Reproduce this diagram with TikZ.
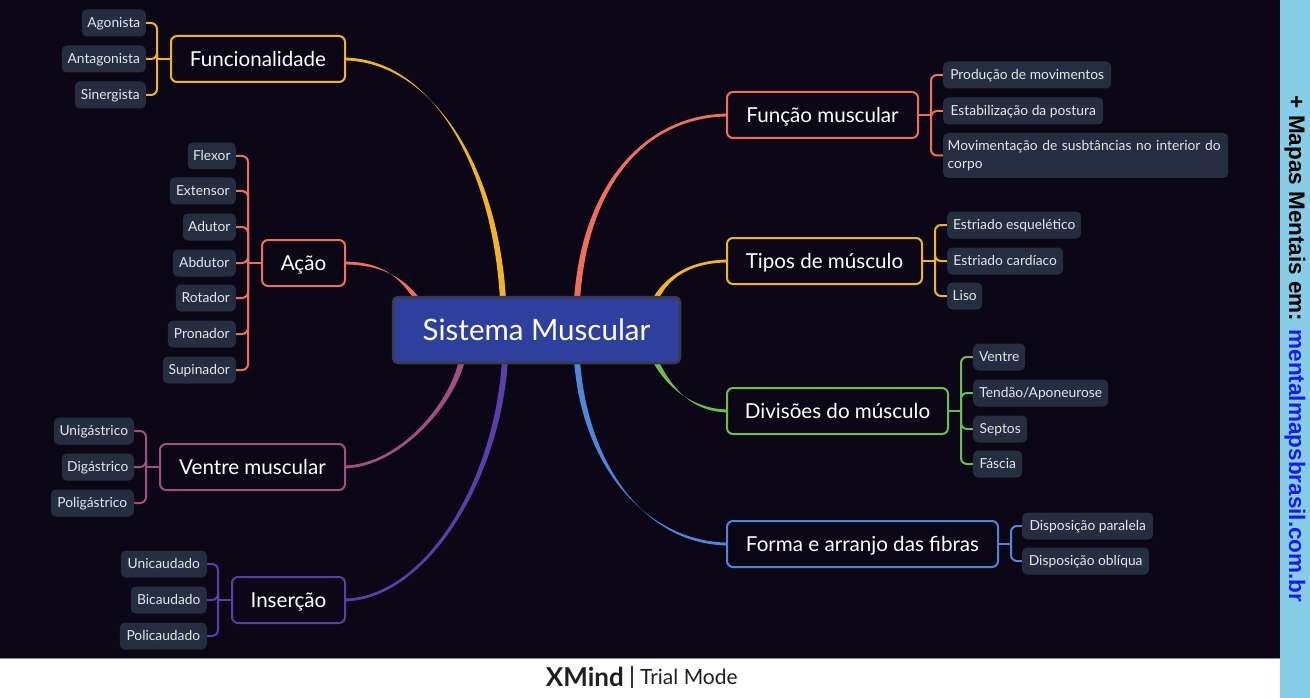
\documentclass[tikz,border=0pt]{standalone}
\usepackage{fontspec}
\setmainfont{Lato}
\newfontfamily\stripfont{Liberation Sans}
\usetikzlibrary{calc}
\pgfdeclarelayer{back}
\pgfdeclarelayer{links}
\pgfsetlayers{back,links,main}
\definecolor{bgc}{HTML}{0B0716}
\definecolor{leafc}{HTML}{252E40}
\definecolor{leaft}{HTML}{E2E6EC}
\definecolor{rootc}{HTML}{2F3F9E}
\definecolor{rootb}{HTML}{3A3A48}
\definecolor{cyel}{HTML}{F0B429}
\definecolor{csal}{HTML}{EE6F5C}
\definecolor{cmau}{HTML}{A04F84}
\definecolor{cpur}{HTML}{5B3FA8}
\definecolor{cgrn}{HTML}{6CBF4F}
\definecolor{cblu}{HTML}{4F86D6}
\definecolor{stripc}{HTML}{87CDE8}
\definecolor{stripblue}{HTML}{1A1AF0}
\newcommand{\mmbranch}[5]{%
 \fill[#5] ($(#1)+(0,-1.4)$) .. controls ($(#1)+#3+(0,-1.6)$) and ($(#2)+#4+(-2.9,0)$) .. ($(#2)+(-3,0)$) -- ($(#2)+(3,0)$) .. controls ($(#2)+#4+(2.9,0)$) and ($(#1)+#3+(0,1.6)$) .. ($(#1)+(0,1.4)$) -- cycle;}
\begin{document}
\begin{tikzpicture}[x=1pt,y=-1pt,
 root/.style={fill=rootc, draw=rootb, line width=2.5pt, rounded corners=5pt, minimum width=287pt, minimum height=66pt, text=white, font=\fontsize{29.5}{32}\selectfont, inner sep=0pt, text height=21.1pt, text depth=0pt},
 topic/.style={fill=bgc, draw=#1, line width=2pt, rounded corners=6pt, minimum height=46pt, text=white, font=\fontsize{20.6}{24}\selectfont, inner sep=0pt, text height=14.8pt, text depth=0pt},
 leaf/.style={fill=leafc, rounded corners=5pt, minimum height=27pt, text=leaft, font=\fontsize{13.8}{16}\selectfont, inner sep=0pt, text height=9.9pt, text depth=0pt},
 lleaf/.style={leaf, anchor=east, minimum width=#1},
 rleaf/.style={leaf, anchor=west, minimum width=#1},
 conn/.style={draw=#1, line width=2pt, rounded corners=6pt}
]
\useasboundingbox (0,0) rectangle (1310,698);
\begin{pgfonlayer}{back}
\fill[bgc] (0,0) rectangle (1280,658);
\fill[white] (0,658) rectangle (1280,698);
\draw[black!45, line width=1pt] (0,658.5) -- (1280,658.5);
\fill[stripc] (1280,0) rectangle (1310,698);
\end{pgfonlayer}

% root
\node[root] (root) at (536.5,330) {Sistema Muscular};

% main topics
\node[topic=cyel, minimum width=174pt] (fun) at (258,59) {Funcionalidade};
\node[topic=csal, minimum width=83pt] (aca) at (303.5,263) {Ação};
\node[topic=cmau, minimum width=185pt] (ven) at (252.5,467) {Ventre muscular};
\node[topic=cpur, minimum width=113pt] (ins) at (288.5,600) {Inserção};
\node[topic=csal, minimum width=191pt] (fm) at (822.5,115) {Função muscular};
\node[topic=cyel, minimum width=195pt] (tip) at (824.5,261) {Tipos de músculo};
\node[topic=cgrn, minimum width=221pt] (div) at (837.5,411) {Divisões do músculo};
\node[topic=cblu, minimum width=271pt] (for) at (862.5,544) {Forma e arranjo das fibras};

% leaves left
\node[lleaf=64pt] (f1) at (146,23) {Agonista};
\node[lleaf=84pt] (f2) at (146,59) {Antagonista};
\node[lleaf=71pt] (f3) at (146,95) {Sinergista};

\node[lleaf=48pt] (a1) at (236,156) {Flexor};
\node[lleaf=66pt] (a2) at (236,191) {Extensor};
\node[lleaf=53pt] (a3) at (236,227) {Adutor};
\node[lleaf=63pt] (a4) at (236,263) {Abdutor};
\node[lleaf=60pt] (a5) at (236,298) {Rotador};
\node[lleaf=68pt] (a6) at (236,334) {Pronador};
\node[lleaf=73pt] (a7) at (236,370) {Supinador};

\node[lleaf=80pt] (v1) at (134,431) {Unigástrico};
\node[lleaf=72pt] (v2) at (134,467) {Digástrico};
\node[lleaf=83pt] (v3) at (134,503) {Poligástrico};

\node[lleaf=86pt] (i1) at (207,564) {Unicaudado};
\node[lleaf=76pt] (i2) at (207,600) {Bicaudado};
\node[lleaf=87pt] (i3) at (207,636) {Policaudado};

% leaves right
\node[rleaf=168pt] (m1) at (943,75) {Produção de movimentos};
\node[rleaf=160pt] (m2) at (943,111) {Estabilização da postura};
\node[leaf, anchor=west, minimum width=285pt, minimum height=45pt, text width=276pt, align=left, text height=, text depth=, inner xsep=4.5pt, font=\fontsize{13.8}{17.5}\selectfont] (m3) at (943,155.5) {Movimentação de susbtâncias no interior do\\corpo};

\node[rleaf=134pt] (t1) at (947,225) {Estriado esquelético};
\node[rleaf=116pt] (t2) at (947,261) {Estriado cardíaco};
\node[rleaf=35pt] (t3) at (947,296) {Liso};

\node[rleaf=52pt] (d1) at (973,357) {Ventre};
\node[rleaf=135pt] (d2) at (973,393) {Tendão/Aponeurose};
\node[rleaf=54pt] (d3) at (973,429) {Septos};
\node[rleaf=49pt] (d4) at (973,464) {Fáscia};

\node[rleaf=131pt] (o1) at (1022,526) {Disposição paralela};
\node[rleaf=127pt] (o2) at (1022,561) {Disposição oblíqua};

% bottom bar
\node[anchor=east, inner sep=0pt, text=black!88, font=\fontsize{26}{28}\selectfont\bfseries] (xmind) at (624,677) {XMind};
\node[anchor=west, inner sep=0pt, text=black!88, font=\fontsize{21}{24}\selectfont] (trial) at (640,677) {Trial Mode};
\coordinate (barT) at (632,666);
\coordinate (barB) at (632,688);
\draw[black!80, line width=1.3pt] (barT) -- (barB);

% right strip
\node[rotate=-90, inner sep=0pt, font=\stripfont\bfseries\fontsize{22.5}{24}\selectfont] (strip) at (1295,349) {+ Mapas Mentais em: \textcolor{stripblue}{mentalmapsbrasil.com.br}};

\begin{pgfonlayer}{links}
% branch endpoints on root
\coordinate (rFun) at (503,300);
\coordinate (rAca) at (418,300);
\coordinate (rVen) at (462,360);
\coordinate (rIns) at (505,360);
\coordinate (rFm) at (577,300);
\coordinate (rTip) at (655,300);
\coordinate (rDiv) at (655,360);
\coordinate (rFor) at (577,360);
\coordinate (sFun) at ($(fun.east)+(-3,0)$);
\coordinate (sAca) at ($(aca.east)+(-3,0)$);
\coordinate (sVen) at ($(ven.east)+(-3,0)$);
\coordinate (sIns) at ($(ins.east)+(-3,0)$);
\coordinate (sFm) at ($(fm.west)+(3,0)$);
\coordinate (sTip) at ($(tip.west)+(3,0)$);
\coordinate (sDiv) at ($(div.west)+(3,0)$);
\coordinate (sFor) at ($(for.west)+(3,0)$);
\mmbranch{sFun}{rFun}{(85,0)}{(-8,-140)}{cyel}
\mmbranch{sAca}{rAca}{(45,0)}{(-14,-18)}{csal}
\mmbranch{sVen}{rVen}{(55,0)}{(-10,45)}{cmau}
\mmbranch{sIns}{rIns}{(80,0)}{(-8,125)}{cpur}
\mmbranch{sFm}{rFm}{(-80,0)}{(8,-120)}{csal}
\mmbranch{sTip}{rTip}{(-42,0)}{(10,-20)}{cyel}
\mmbranch{sDiv}{rDiv}{(-42,0)}{(10,20)}{cgrn}
\mmbranch{sFor}{rFor}{(-80,0)}{(8,110)}{cblu}

% brackets
\coordinate (jf) at ($(fun.west)+(-13,0)$);
\draw[conn=cyel] (fun.west) -- (jf);
\foreach \s in {f1,f2,f3} \draw[conn=cyel] (jf) |- (\s.east);
\coordinate (ja) at ($(aca.west)+(-13,0)$);
\draw[conn=csal] (aca.west) -- (ja);
\foreach \s in {a1,a2,a3,a4,a5,a6,a7} \draw[conn=csal] (ja) |- (\s.east);
\coordinate (jv) at ($(ven.west)+(-13,0)$);
\draw[conn=cmau] (ven.west) -- (jv);
\foreach \s in {v1,v2,v3} \draw[conn=cmau] (jv) |- (\s.east);
\coordinate (ji) at ($(ins.west)+(-13,0)$);
\draw[conn=cpur] (ins.west) -- (ji);
\foreach \s in {i1,i2,i3} \draw[conn=cpur] (ji) |- (\s.east);
\coordinate (jm) at ($(fm.east)+(12,0)$);
\draw[conn=csal] (fm.east) -- (jm);
\foreach \s in {m1,m2,m3} \draw[conn=csal] (jm) |- (\s.west);
\coordinate (jt) at ($(tip.east)+(12,0)$);
\draw[conn=cyel] (tip.east) -- (jt);
\foreach \s in {t1,t2,t3} \draw[conn=cyel] (jt) |- (\s.west);
\coordinate (jd) at ($(div.east)+(12,0)$);
\draw[conn=cgrn] (div.east) -- (jd);
\foreach \s in {d1,d2,d3,d4} \draw[conn=cgrn] (jd) |- (\s.west);
\coordinate (jo) at ($(for.east)+(12,0)$);
\draw[conn=cblu] (for.east) -- (jo);
\foreach \s in {o1,o2} \draw[conn=cblu] (jo) |- (\s.west);
\end{pgfonlayer}
\end{tikzpicture}
\end{document}
